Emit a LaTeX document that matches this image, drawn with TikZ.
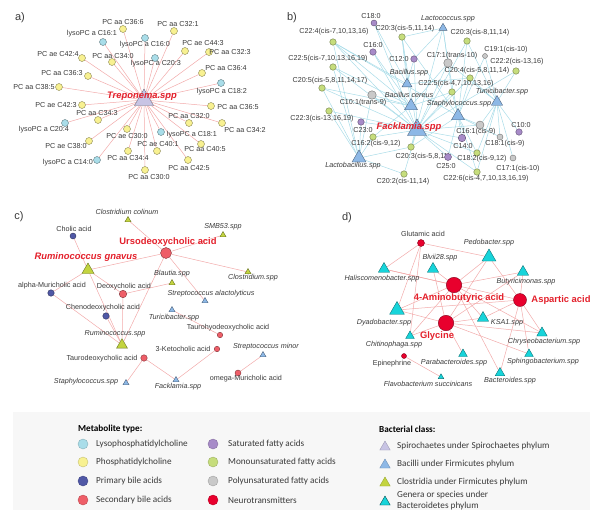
\documentclass[tikz,border=0pt]{standalone}
\usepackage{fontspec}
\setmainfont{Liberation Sans}
\newfontfamily\legfont{Carlito}
\usetikzlibrary{shapes.geometric}
\definecolor{lysoc}{HTML}{A9DDE9}
\definecolor{pcc}{HTML}{F8F191}
\definecolor{pbac}{HTML}{5058A6}
\definecolor{sbac}{HTML}{EE5E68}
\definecolor{sfac}{HTML}{A78BC8}
\definecolor{mufac}{HTML}{C6DD7C}
\definecolor{pufac}{HTML}{C9C9C9}
\definecolor{ntc}{HTML}{E8002D}
\definecolor{spiro}{HTML}{C8C4E4}
\definecolor{bacil}{HTML}{8DB8E6}
\definecolor{clost}{HTML}{C3D43F}
\definecolor{bactd}{HTML}{17D4DA}
\definecolor{pinkln}{HTML}{F2AAAA}
\definecolor{cyanln}{HTML}{A9DCE8}
\definecolor{txtgrey}{HTML}{3A3A3A}
\definecolor{hubred}{HTML}{E3202B}
\pgfdeclarelayer{bg}
\pgfdeclarelayer{edges}
\pgfsetlayers{bg,edges,main}
\tikzset{
  mdot/.style={circle, draw=#1!55!black, fill=#1, line width=0.4pt,
               inner sep=0pt, minimum size=6.5pt},
  btri/.style={regular polygon, regular polygon sides=3, draw=#1!55!black,
               fill=#1, line width=0.4pt, inner sep=0pt, minimum size=7pt},
  lbl/.style={font=\fontsize{7.2}{8}\selectfont, text=txtgrey, inner sep=0.5pt},
  lbi/.style={lbl, font=\fontsize{7.2}{8}\selectfont\itshape},
  hub/.style={font=\fontsize{9.4}{10}\selectfont\bfseries, text=hubred, inner sep=0.5pt},
  hubi/.style={hub, font=\fontsize{9.4}{10}\selectfont\bfseries\itshape},
  lk/.style={draw=#1, line width=0.5pt},
  tag/.style={font=\fontsize{11}{12}\selectfont, text=txtgrey},
  legtit/.style={font=\legfont\fontsize{9.2}{10}\selectfont\bfseries, anchor=west, inner sep=0pt},
  legtxt/.style={font=\legfont\fontsize{9.2}{11}\selectfont, text=txtgrey, anchor=west,
                 align=left, inner sep=0pt},
}
\begin{document}
\begin{tikzpicture}[x=1pt,y=-1pt]
  \useasboundingbox (0,0) rectangle (600,515);
  \begin{pgfonlayer}{bg}
    \fill[black!3] (13,412) rectangle (590,510);
  \end{pgfonlayer}

  % a) Treponema
  \node[tag] (taga) at (20,18) {a)};
  \node[btri=spiro, minimum size=22pt] (trep) at (144,100) {};
  \node[hubi] (trept) at (142,96) {Treponema.spp};
  \node[mdot=lysoc, minimum size=7pt] (l161) at (103,42) {}; \node[lbl] (l161t) at (92,34) {lysoPC a C16:1};
  \node[mdot=pcc, minimum size=7pt] (pc366) at (123,29) {}; \node[lbl] (pc366t) at (123,22) {PC aa C36:6};
  \node[mdot=pcc, minimum size=7pt] (pc321) at (174,31) {}; \node[lbl] (pc321t) at (178,24) {PC aa C32:1};
  \node[mdot=lysoc, minimum size=7pt] (l160) at (145,38) {}; \node[lbl] (l160t) at (145,45) {lysoPC a C16:0};
  \node[mdot=pcc, minimum size=7pt] (pe443) at (185,51) {}; \node[lbl] (pe443t) at (203,43) {PC ae C44:3};
  \node[mdot=pcc, minimum size=7pt] (pc323) at (209,52) {}; \node[lbl] (pc323t) at (230,52) {PC aa C32:3};
  \node[mdot=pcc, minimum size=7pt] (pe424) at (82,58) {}; \node[lbl] (pe424t) at (58,54) {PC ae C42:4};
  \node[mdot=pcc, minimum size=7pt] (pc340) at (112,62) {}; \node[lbl] (pc340t) at (113,56) {PC aa C34:0};
  \node[mdot=lysoc, minimum size=7pt] (l203) at (155,58) {}; \node[lbl] (l203t) at (156,64) {lysoPC a C20:3};
  \node[mdot=pcc, minimum size=7pt] (pc363) at (88,76) {}; \node[lbl] (pc363t) at (62,73) {PC aa C36:3};
  \node[mdot=pcc, minimum size=7pt] (pc364) at (202,73) {}; \node[lbl] (pc364t) at (226,68) {PC aa C36:4};
  \node[mdot=pcc, minimum size=7pt] (pc385) at (59,87) {}; \node[lbl] (pc385t) at (34,87) {PC aa C38:5};
  \node[mdot=lysoc, minimum size=7pt] (l182) at (221,83) {}; \node[lbl] (l182t) at (222,92) {lysoPC a C18:2};
  \node[mdot=pcc, minimum size=7pt] (pe423) at (82,105) {}; \node[lbl] (pe423t) at (56,105) {PC ae C42:3};
  \node[mdot=pcc, minimum size=7pt] (pc365) at (211,106) {}; \node[lbl] (pc365t) at (238,107) {PC aa C36:5};
  \node[mdot=pcc, minimum size=7pt] (pc343) at (98,120) {}; \node[lbl] (pc343t) at (97,113) {PC aa C34:3};
  \node[mdot=pcc, minimum size=7pt] (pc320) at (189,123) {}; \node[lbl] (pc320t) at (189,116) {PC aa C32:0};
  \node[mdot=lysoc, minimum size=7pt] (l204) at (65,123) {}; \node[lbl] (l204t) at (44,130) {lysoPC a C20:4};
  \node[mdot=pcc, minimum size=7pt] (pc342) at (222,123) {}; \node[lbl] (pc342t) at (245,130) {PC aa C34:2};
  \node[mdot=pcc, minimum size=7pt] (pe300) at (127,129) {}; \node[lbl] (pe300t) at (127,136) {PC ae C30:0};
  \node[mdot=lysoc, minimum size=7pt] (l181) at (161,132) {}; \node[lbl] (l181t) at (192,135) {lysoPC a C18:1};
  \node[mdot=pcc, minimum size=7pt] (pe380) at (89,141) {}; \node[lbl] (pe380t) at (66,146) {PC ae C38:0};
  \node[mdot=pcc, minimum size=7pt] (pe401) at (157,151) {}; \node[lbl] (pe401t) at (158,144) {PC ae C40:1};
  \node[lbl] (pc405t) at (205,149) {PC aa C40:5}; \node[mdot=pcc, minimum size=7pt] (pc405) at (201,144) {};
  \node[mdot=pcc, minimum size=7pt] (pc344) at (128,151) {}; \node[lbl] (pc344t) at (128,158) {PC aa C34:4};
  \node[mdot=lysoc, minimum size=7pt] (l140) at (97,160) {}; \node[lbl] (l140t) at (68,163) {lysoPC a C14:0};
  \node[mdot=pcc, minimum size=7pt] (pc425) at (188,160) {}; \node[lbl] (pc425t) at (189,168) {PC aa C42:5};
  \node[mdot=pcc, minimum size=7pt] (pc300) at (145,170) {}; \node[lbl] (pc300t) at (149,177) {PC aa C30:0};

  \begin{pgfonlayer}{edges}
    \foreach \m in {l161,pc366,pc321,l160,pe443,pc323,pe424,pc340,l203,pc363,pc364,pc385,l182,pe423,
                    pc365,pc343,pc320,l204,pc342,pe300,l181,pe380,pe401,pc405,pc344,l140,pc425,pc300}
      \draw[lk=pinkln] (\m) -- (trep);
  \end{pgfonlayer}

  % b) Facklamia
  \node[tag] (tagb) at (292,18) {b)};
  \node[mdot=sfac, minimum size=6pt] (c180) at (374,23) {}; \node[lbl] (c180t) at (371,16) {C18:0};
  \node[btri=bacil, minimum size=9.5pt] (lcoc) at (443,28) {}; \node[lbi] (lcoct) at (448,19) {Lactococcus.spp};
  \node[mdot=mufac] (c203a) at (402,37) {}; \node[lbl] (c203at) at (405,29) {C20:3(cis-5,11,14)};
  \node[mdot=mufac] (c203b) at (467,41) {}; \node[lbl] (c203bt) at (480,33) {C20:3(cis-8,11,14)};
  \node[mdot=mufac] (c224) at (333,42) {}; \node[lbl] (c224t) at (334,32) {C22:4(cis-7,10,13,16)};
  \node[mdot=sfac] (c160) at (373,52) {}; \node[lbl] (c160t) at (373,45) {C16:0};
  \node[mdot=sfac] (c120) at (414,59) {}; \node[lbl] (c120t) at (399,59) {C12:0};
  \node[lbl] (c171tt) at (452,56) {C17:1(trans-10)}; \node[mdot=pufac, minimum size=8.5pt] (c171t) at (448,63) {};
  \node[mdot=pufac, minimum size=5pt] (c191) at (485,56) {}; \node[lbl] (c191t) at (506,50) {C19:1(cis-10)};
  \node[mdot=mufac] (c222) at (516,71) {}; \node[lbl] (c222t) at (517,62) {C22:2(cis-13,16)};
  \node[mdot=mufac] (c225a) at (333,67) {}; \node[lbl] (c225at) at (328,59) {C22:5(cis-7,10,13,16,19)};
  \node[btri=bacil, minimum size=11.5pt] (bspp) at (407,84) {}; \node[lbi] (bsppt) at (409,73) {Bacillus.spp};
  \node[mdot=mufac] (c204) at (470,78) {}; \node[lbl] (c204t) at (477,71) {C20:4(cis-5,8,11,14)};
  \node[mdot=mufac] (c205) at (322,88) {}; \node[lbl] (c205t) at (330,81) {C20:5(cis-5,8,11,14,17)};
  \node[mdot=mufac] (c225b) at (452,92) {}; \node[lbl] (c225bt) at (456,84) {C22:5(cis-4,7,10,13,16)};
  \node[btri=bacil, minimum size=13pt] (tuni) at (497,102) {}; \node[lbi] (tunit) at (502,92) {Tunicibacter.spp};
  \node[btri=bacil, minimum size=15pt] (bcer) at (411,106) {}; \node[lbi] (bcert) at (409,95) {Bacillus cereus};
  \node[mdot=pufac, minimum size=8.5pt] (c101) at (372,95) {}; \node[lbl] (c101t) at (363,103) {C10:1(trans-9)};
  \node[mdot=mufac] (c223) at (329,111) {}; \node[lbl] (c223t) at (322,119) {C22:3(cis-13,16,19)};
  \node[btri=bacil, minimum size=15pt] (staph) at (458,116) {}; \node[lbi] (stapht) at (459,104) {Staphylococcus.spp};
  \node[mdot=sfac] (c230) at (361,122) {}; \node[lbl] (c230t) at (363,130) {C23:0};
  \node[btri=bacil, minimum size=22pt] (fack) at (417,130) {}; \node[hubi] (fackt) at (409,127) {Facklamia.spp};
  \node[mdot=mufac] (c162) at (373,137) {}; \node[lbl] (c162t) at (376,144) {C16:2(cis-9,12)};
  \node[btri=bacil, minimum size=16pt] (lbac) at (359,158) {}; \node[lbi] (lbact) at (353,166) {Lactobacillus.spp};
  \node[mdot=mufac] (c203c) at (411,147) {}; \node[lbl] (c203ct) at (423,157) {C20:3(cis-5,8,11)};
  \node[mdot=sfac, minimum size=7pt] (c250) at (448,157) {}; \node[lbl] (c250t) at (446,166) {C25:0};
  \node[mdot=pufac, minimum size=8pt] (c161) at (480,125) {}; \node[lbl] (c161t) at (476,132) {C16:1(cis-9)};
  \node[mdot=sfac] (c100) at (519,132) {}; \node[lbl] (c100t) at (521,125) {C10:0};
  \node[mdot=sfac, minimum size=7.5pt] (c140) at (462,138) {}; \node[lbl] (c140t) at (463,146) {C14:0};
  \node[mdot=pufac, minimum size=6pt] (c181) at (500,137) {}; \node[lbl] (c181t) at (505,144) {C18:1(cis-9)};
  \node[mdot=mufac] (c182) at (477,153) {}; \node[lbl] (c182t) at (482,159) {C18:2(cis-9,12)};
  \node[mdot=pufac, minimum size=6pt] (c171c) at (513,158) {}; \node[lbl] (c171ct) at (518,169) {C17:1(cis-10)};
  \node[mdot=mufac] (c226) at (477,172) {}; \node[lbl] (c226t) at (486,179) {C22:6(cis-4,7,10,13,16,19)};
  \node[mdot=mufac] (c202) at (404,174) {}; \node[lbl] (c202t) at (403,182) {C20:2(cis-11,14)};

  \begin{pgfonlayer}{edges}
    \foreach \m in {c180,c203a,c203b,c224,c160,c120,c171t,c222,c225a,c204,c205,c225b,c101,c223,
                    c230,c162,c203c,c250,c161,c140,c182,c226,c202}
      \draw[lk=cyanln] (\m) -- (fack);
    \foreach \m in {c224,c160,c225a,c205,c225b,c101,c162,c171t,c203a}
      \draw[lk=cyanln] (\m) -- (bcer);
    \foreach \m in {c180,c203a,c120,c204,c224}
      \draw[lk=cyanln] (\m) -- (bspp);
    \foreach \m in {c203a,c203b,c224,c171t,c191,c204,c225b,c203c,c250,c161,c140,c181,c182,c226}
      \draw[lk=cyanln] (\m) -- (staph);
    \foreach \m in {c203b,c171t,c191,c222,c161,c100,c181,c182,c171c,c226,c204}
      \draw[lk=cyanln] (\m) -- (tuni);
    \foreach \m in {c225a,c205,c101,c223,c230,c162,c203c,c202,c224}
      \draw[lk=cyanln] (\m) -- (lbac);
    \foreach \m in {c203a,c120,c225b,c203c,c171t}
      \draw[lk=cyanln] (\m) -- (lcoc);
  \end{pgfonlayer}

  % c) bile acids
  \node[tag] (tagc) at (19,217) {c)};
  \node[btri=clost] (ccol) at (128,220) {}; \node[lbi] (ccolt) at (127,212) {Clostridium colinum};
  \node[btri=clost] (smb) at (223,235) {}; \node[lbi] (smbt) at (223,227) {SMB53.spp};
  \node[mdot=pbac, minimum size=6pt] (chol) at (73,236) {}; \node[lbl] (cholt) at (74,229) {Cholic acid};
  \node[mdot=sbac, minimum size=11pt] (urso) at (166,253) {}; \node[hub] (ursot) at (168,242) {Ursodeoxycholic acid};
  \node[btri=clost, minimum size=14pt] (rgna) at (88,270) {}; \node[hubi] (rgnat) at (86,257) {Ruminococcus gnavus};
  \node[btri=clost] (blau) at (172,283) {}; \node[lbi] (blaut) at (172,274) {Blautia.spp};
  \node[btri=clost] (clos) at (248,272) {}; \node[lbi] (clost) at (253,278) {Clostridium.spp};
  \node[mdot=pbac] (amur) at (51,293) {}; \node[lbl] (amurt) at (52,286) {alpha-Muricholic acid};
  \node[mdot=sbac, minimum size=7.5pt] (deox) at (123,294) {}; \node[lbl] (deoxt) at (124,287) {Deoxycholic acid};
  \node[btri=bacil] (salac) at (205,301) {}; \node[lbi] (salact) at (211,294) {Streptococcus alactolyticus};
  \node[mdot=pbac] (cheno) at (106,316) {}; \node[lbl] (chenot) at (103,308) {Chenodeoxycholic acid};
  \node[btri=bacil] (turi) at (172,310) {}; \node[lbi] (turit) at (174,318) {Turicibacter.spp};
  \node[mdot=sbac, minimum size=5.5pt] (thdca) at (220,335) {}; \node[lbl] (thdcat) at (228,328) {Taurohyodeoxycholic acid};
  \node[btri=clost, minimum size=12.7pt] (rspp) at (122,345) {}; \node[lbi] (rsppt) at (115,334) {Ruminococcus.spp};
  \node[mdot=sbac, minimum size=5.5pt] (keto) at (217,349) {}; \node[lbl] (ketot) at (183,349) {3-Ketocholic acid};
  \node[btri=bacil] (smin) at (263,355) {}; \node[lbi] (smint) at (266,347) {Streptococcus minor};
  \node[mdot=sbac] (tdca) at (144,358) {}; \node[lbl] (tdcat) at (102,359) {Taurodeoxycholic acid};
  \node[mdot=sbac, minimum size=6pt] (omur) at (238,373) {}; \node[lbl] (omurt) at (246,379) {omega-Muricholic acid};
  \node[btri=bacil] (cstaph) at (126,383) {}; \node[lbi] (cstapht) at (86,382) {Staphylococcus.spp};
  \node[btri=bacil] (cfack) at (176,380) {}; \node[lbi] (cfackt) at (178,387) {Facklamia.spp};

  \begin{pgfonlayer}{edges}
    \foreach \m in {ccol,smb,clos,rgna,rspp,salac}
      \draw[lk=pinkln] (urso) -- (\m);
    \foreach \m in {chol,amur,deox,rspp}
      \draw[lk=pinkln] (rgna) -- (\m);
    \foreach \m in {amur,cheno,deox}
      \draw[lk=pinkln] (rspp) -- (\m);
    \draw[lk=pinkln] (deox) -- (blau);
    \draw[lk=pinkln] (turi) -- (thdca);
    \draw[lk=pinkln] (cfack) -- (keto);
    \draw[lk=pinkln] (cfack) -- (tdca);
    \draw[lk=pinkln] (cstaph) -- (tdca);
    \draw[lk=pinkln] (smin) -- (omur);
  \end{pgfonlayer}

  % d) neurotransmitters
  \node[tag] (tagd) at (347,218) {d)};
  \node[mdot=ntc, minimum size=7pt] (glu) at (421,243) {}; \node[lbl] (glut) at (423,234) {Glutamic acid};
  \node[btri=bactd, minimum size=16pt] (pedo) at (489,257) {}; \node[lbi] (pedot) at (489,243) {Pedobacter.spp};
  \node[btri=bactd, minimum size=13pt] (blvi) at (433,269) {}; \node[lbi] (blvit) at (440,258) {Blvii28.spp};
  \node[btri=bactd, minimum size=13pt] (hali) at (384,269) {}; \node[lbi] (halit) at (382,279) {Haliscomenobacter.spp};
  \node[btri=bactd, minimum size=13pt] (buty) at (523,272) {}; \node[lbi] (butyt) at (526,282) {Butyricimonas.spp};
  \node[mdot=ntc, minimum size=15.5pt] (gaba) at (454,285) {}; \node[hub] (gabat) at (459,298) {4-Aminobutyric acid};
  \node[mdot=ntc, minimum size=13pt] (asp) at (520,300) {}; \node[hub] (aspt) at (561,300) {Aspartic acid};
  \node[btri=bactd, minimum size=17pt] (dyad) at (397,310) {}; \node[lbi] (dyadt) at (384,323) {Dyadobacter.spp};
  \node[btri=bactd, minimum size=13pt] (ksa) at (483,318) {}; \node[lbi] (ksat) at (507,323) {KSA1.spp};
  \node[mdot=ntc, minimum size=15.5pt] (gly) at (446,323) {}; \node[hub] (glyt) at (437,336) {Glycine};
  \node[btri=bactd, minimum size=10pt] (chit) at (410,336) {}; \node[lbi] (chitt) at (394,345) {Chitinophaga.spp};
  \node[btri=bactd, minimum size=12pt] (chry) at (542,333) {}; \node[lbi] (chryt) at (544,342) {Chryseobacterium.spp};
  \node[mdot=ntc, minimum size=5pt] (epi) at (404,356) {}; \node[lbl] (epit) at (392,364) {Epinephrine};
  \node[btri=bactd, minimum size=10pt] (para) at (463,354) {}; \node[lbi] (parat) at (454,363) {Parabacteroides.spp};
  \node[btri=bactd, minimum size=10pt] (sphi) at (529,354) {}; \node[lbi] (sphit) at (543,362) {Sphingobacterium.spp};
  \node[btri=bactd, minimum size=6.5pt] (flav) at (441,377) {}; \node[lbi] (flavt) at (428,384) {Flavobacterium succinicans};
  \node[btri=bactd, minimum size=11pt] (bact) at (500,373) {}; \node[lbi] (bactt) at (510,381) {Bacteroides.spp};

  \begin{pgfonlayer}{edges}
    \foreach \m in {pedo,hali,dyad,chit}
      \draw[lk=pinkln] (glu) -- (\m);
    \foreach \m in {pedo,blvi,hali,buty,dyad,ksa,chry,chit,bact}
      \draw[lk=pinkln] (gaba) -- (\m);
    \foreach \m in {pedo,buty,dyad,ksa,chry,sphi,bact,hali}
      \draw[lk=pinkln] (asp) -- (\m);
    \foreach \m in {dyad,blvi,pedo,ksa,chry,sphi,para,chit,buty}
      \draw[lk=pinkln] (gly) -- (\m);
    \draw[lk=pinkln] (epi) -- (flav);
  \end{pgfonlayer}

  % legend
  \node[legtit] (legm) at (78,429) {Metabolite type:};
  \node[mdot=lysoc, minimum size=10pt, draw=lysoc!80!black] (k1) at (83,444) {}; \node[legtxt] (k1t) at (96,444) {Lysophosphatidylcholine};
  \node[mdot=pcc, minimum size=10pt, draw=pcc!80!black] (k2) at (83,462) {}; \node[legtxt] (k2t) at (96,462) {Phosphatidylcholine};
  \node[mdot=pbac, minimum size=10pt, draw=pbac!80!black] (k3) at (83,481) {}; \node[legtxt] (k3t) at (96,481) {Primary bile acids};
  \node[mdot=sbac, minimum size=10pt, draw=sbac!80!black] (k4) at (83,500) {}; \node[legtxt] (k4t) at (96,500) {Secondary bile acids};
  \node[mdot=sfac, minimum size=10pt, draw=sfac!80!black] (k5) at (213,444) {}; \node[legtxt] (k5t) at (228,444) {Saturated fatty acids};
  \node[mdot=mufac, minimum size=10pt, draw=mufac!80!black] (k6) at (213,462) {}; \node[legtxt] (k6t) at (228,462) {Monounsaturated fatty acids};
  \node[mdot=pufac, minimum size=10pt, draw=pufac!80!black] (k7) at (213,481) {}; \node[legtxt] (k7t) at (228,481) {Polyunsaturated fatty acids};
  \node[mdot=ntc, minimum size=10pt, draw=ntc!80!black] (k8) at (213,500) {}; \node[legtxt] (k8t) at (228,500) {Neurotransmitters};

  \node[legtit] (legb) at (379,429) {Bacterial class:};
  \node[btri=spiro, minimum size=12pt, draw=spiro!80!black] (t1) at (385,447) {}; \node[legtxt] (t1t) at (397,446) {Spirochaetes under Spirochaetes phylum};
  \node[btri=bacil, minimum size=12pt, draw=bacil!80!black] (t2) at (385,465) {}; \node[legtxt] (t2t) at (397,464) {Bacilli under Firmicutes phylum};
  \node[btri=clost, minimum size=12pt, draw=clost!80!black] (t3) at (385,483) {}; \node[legtxt] (t3t) at (397,482) {Clostridia under Firmicutes phylum};
  \node[btri=bactd, minimum size=12pt, draw=bactd!40!black] (t4) at (385,502) {}; \node[legtxt] (t4t) at (397,501) {Genera or species under\\Bacteroidetes phylum};
\end{tikzpicture}
\end{document}
